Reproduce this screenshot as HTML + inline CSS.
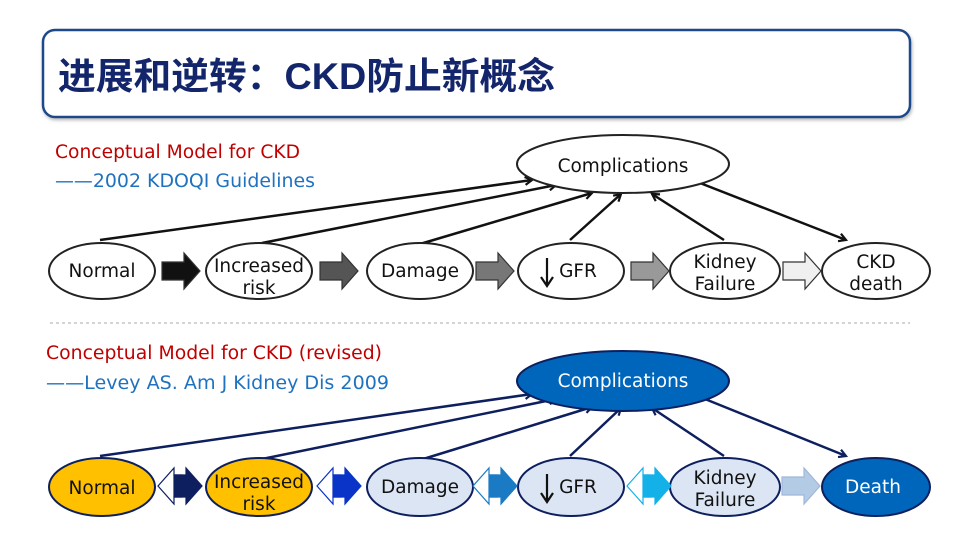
<!DOCTYPE html>
<html><head><meta charset="utf-8"><style>
body{margin:0;width:960px;height:540px;background:#fff;overflow:hidden}
svg text{font-family:"DejaVu Sans","Liberation Sans",sans-serif}
</style></head><body>
<svg width="960" height="540" viewBox="0 0 960 540" xmlns="http://www.w3.org/2000/svg">
<defs>
<marker id="ak" markerWidth="10" markerHeight="10" refX="8" refY="5" orient="auto" markerUnits="userSpaceOnUse"><path d="M1,1 L8,5 L1,9" fill="none" stroke="#111" stroke-width="2.2"/></marker>
<marker id="an" markerWidth="10" markerHeight="10" refX="8" refY="5" orient="auto" markerUnits="userSpaceOnUse"><path d="M1,1 L8,5 L1,9" fill="none" stroke="#0d1f5e" stroke-width="2.2"/></marker>
<filter id="sh" x="-5%" y="-10%" width="110%" height="130%"><feDropShadow dx="1" dy="2" stdDeviation="1.5" flood-color="#888" flood-opacity="0.6"/></filter>
</defs>
<rect x="43" y="30" width="867" height="87" rx="12" fill="#fff" stroke="#1f4a8a" stroke-width="2.5" filter="url(#sh)"/>
<text x="58" y="89" font-size="37" font-weight="bold" fill="#13256b" textLength="497" lengthAdjust="spacingAndGlyphs" style="font-family:'Liberation Sans','Noto Sans CJK SC',sans-serif">进展和逆转：CKD防止新概念</text>

<g font-size="18.5">
<text x="55" y="158" fill="#c00000" textLength="245" lengthAdjust="spacingAndGlyphs">Conceptual Model for CKD</text>
<text x="55" y="187" fill="#1f72c0" textLength="260" lengthAdjust="spacingAndGlyphs">——2002 KDOQI Guidelines</text>
<text x="46" y="359" fill="#c00000" textLength="336" lengthAdjust="spacingAndGlyphs">Conceptual Model for CKD (revised)</text>
<text x="46" y="389" fill="#1f72c0" textLength="343" lengthAdjust="spacingAndGlyphs">——Levey AS. Am J Kidney Dis 2009</text>
</g>

<line x1="50" y1="323" x2="910" y2="323" stroke="#aaa" stroke-width="1" stroke-dasharray="3,3"/>

<!-- TOP -->
<g stroke="#111" stroke-width="2.5" fill="none">
<line x1="100" y1="240" x2="532" y2="180" marker-end="url(#ak)"/>
<line x1="262" y1="243" x2="556" y2="185" marker-end="url(#ak)"/>
<line x1="420" y1="244" x2="592" y2="193" marker-end="url(#ak)"/>
<line x1="570" y1="240" x2="621" y2="194" marker-end="url(#ak)"/>
<line x1="724" y1="240" x2="652" y2="194" marker-end="url(#ak)"/>
<line x1="700" y1="183" x2="846" y2="240" marker-end="url(#ak)"/>
</g>
<g stroke="#222" stroke-width="2" fill="#fff">
<ellipse cx="623" cy="164" rx="106" ry="29"/>
<ellipse cx="102" cy="271" rx="53" ry="28"/>
<ellipse cx="259" cy="271" rx="53" ry="28"/>
<ellipse cx="420" cy="271" rx="53" ry="28"/>
<ellipse cx="571" cy="271" rx="53" ry="28"/>
<ellipse cx="725" cy="271" rx="55" ry="28"/>
<ellipse cx="876" cy="271" rx="54" ry="28"/>
</g>
<g stroke="#333" stroke-width="1.2">
<path d="M162,262 h22 v-9 l16,18 -16,18 v-9 h-22z" fill="#111"/>
<path d="M320,262 h22 v-9 l16,18 -16,18 v-9 h-22z" fill="#555"/>
<path d="M476,262 h22 v-9 l16,18 -16,18 v-9 h-22z" fill="#777"/>
<path d="M631,262 h22 v-9 l16,18 -16,18 v-9 h-22z" fill="#999"/>
<path d="M783,262 h22 v-9 l16,18 -16,18 v-9 h-22z" fill="#f0f0f0"/>
</g>
<g font-size="18.5" fill="#111" text-anchor="middle">
<text x="623" y="172">Complications</text>
<text x="102" y="277">Normal</text>
<text x="259" y="272">Increased</text><text x="259" y="294">risk</text>
<text x="420" y="277">Damage</text>
<text x="578" y="277">GFR</text>
<text x="725" y="268">Kidney</text><text x="725" y="290">Failure</text>
<text x="876" y="268">CKD</text><text x="876" y="290">death</text>
</g>
<path d="M547,258 v26 M541,277 l6,9 6,-9" stroke="#111" stroke-width="2.2" fill="none"/>

<!-- BOTTOM -->
<g transform="translate(0,216)">
<g stroke="#0d1f5e" stroke-width="2.5" fill="none">
<line x1="100" y1="240" x2="532" y2="178" marker-end="url(#an)"/>
<line x1="262" y1="243" x2="556" y2="183" marker-end="url(#an)"/>
<line x1="420" y1="244" x2="592" y2="191" marker-end="url(#an)"/>
<line x1="570" y1="240" x2="621" y2="192" marker-end="url(#an)"/>
<line x1="724" y1="240" x2="652" y2="192" marker-end="url(#an)"/>
<line x1="700" y1="181" x2="846" y2="240" marker-end="url(#an)"/>
</g>
<g stroke="#0d1f5e" stroke-width="2">
<ellipse cx="623" cy="165" rx="106" ry="30" fill="#0066bb"/>
<ellipse cx="102" cy="271" rx="53" ry="29" fill="#ffc000"/>
<ellipse cx="259" cy="271" rx="53" ry="29" fill="#ffc000"/>
<ellipse cx="420" cy="271" rx="53" ry="29" fill="#dbe5f3"/>
<ellipse cx="571" cy="271" rx="53" ry="29" fill="#dbe5f3"/>
<ellipse cx="725" cy="271" rx="55" ry="29" fill="#dbe5f3"/>
<ellipse cx="876" cy="271" rx="54" ry="29" fill="#0066bb"/>
</g>
<g stroke-width="1.2">
<path d="M174,259 v-7 l-16,18 16,18 v-7 h8 v-22z" fill="#fff" stroke="#0d1f5e"/>
<path d="M174,259 h12 v-7 l16,18 -16,18 v-7 h-12z" fill="#0d1f5e" stroke="#0d1f5e"/>
<path d="M333,259 v-7 l-16,18 16,18 v-7 h8 v-22z" fill="#fff" stroke="#0a33c8"/>
<path d="M333,259 h12 v-7 l16,18 -16,18 v-7 h-12z" fill="#0a33c8" stroke="#0a33c8"/>
<path d="M489,259 v-7 l-16,18 16,18 v-7 h8 v-22z" fill="#fff" stroke="#1a7ac4"/>
<path d="M489,259 h12 v-7 l16,18 -16,18 v-7 h-12z" fill="#1a7ac4" stroke="#1a7ac4"/>
<path d="M643,259 v-7 l-16,18 16,18 v-7 h8 v-22z" fill="#fff" stroke="#14b0e8"/>
<path d="M643,259 h12 v-7 l16,18 -16,18 v-7 h-12z" fill="#14b0e8" stroke="#14b0e8"/>
<path d="M782,261 h22 v-9 l16,18 -16,18 v-9 h-22z" fill="#b4cbe6" stroke="#9fb8da"/>
</g>
<g font-size="18.5" text-anchor="middle">
<text x="623" y="171" fill="#fff">Complications</text>
<text x="102" y="278" fill="#111">Normal</text>
<text x="259" y="272" fill="#111">Increased</text><text x="259" y="294" fill="#111">risk</text>
<text x="420" y="277" fill="#111">Damage</text>
<text x="578" y="277" fill="#111">GFR</text>
<text x="725" y="268" fill="#111">Kidney</text><text x="725" y="290" fill="#111">Failure</text>
<text x="873" y="277" fill="#fff">Death</text>
</g>
<path d="M547,258 v26 M541,277 l6,9 6,-9" stroke="#111" stroke-width="2.2" fill="none"/>
</g>
</svg>
</body></html>
